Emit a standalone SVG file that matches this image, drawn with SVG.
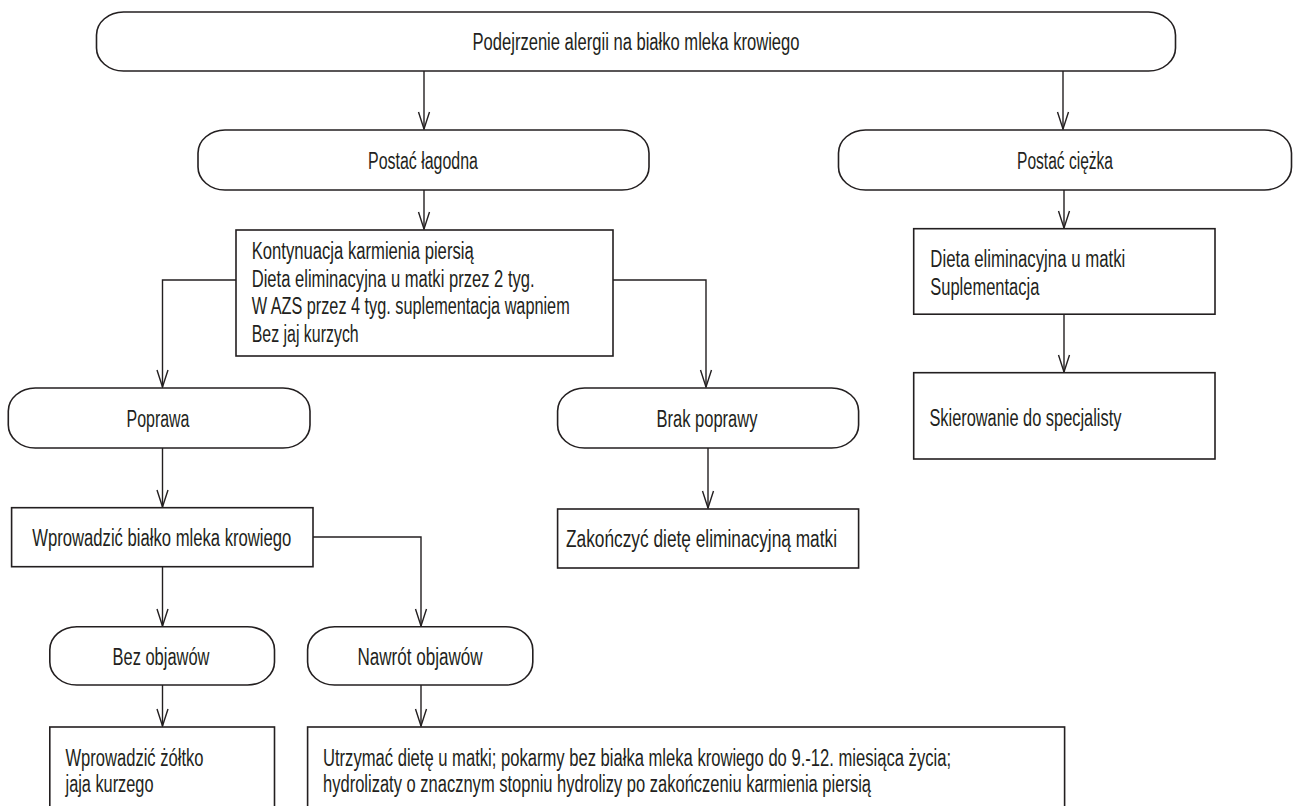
<svg xmlns="http://www.w3.org/2000/svg" width="1299" height="806" viewBox="0 0 1299 806">
<style>
rect{fill:#fff;stroke:#231f20;stroke-width:1.6}
text{font-family:"Liberation Sans",Arial,sans-serif;font-size:23px;fill:#231f20}
.c{text-anchor:middle}
#connectors path{fill:none;stroke:#231f20;stroke-width:1.4}
</style>
<defs>
<marker id="arr" markerUnits="userSpaceOnUse" markerWidth="40" markerHeight="40" refX="0" refY="0" orient="auto" overflow="visible">
<path d="M-17,-5.5 L0,0 L-17,5.5" fill="none" stroke="#231f20" stroke-width="1.4"/>
</marker>
</defs>
<rect x="0" y="0" width="1299" height="806" style="fill:#fff;stroke:none"/>
<g id="connectors">
<path d="M424,71 V129" marker-end="url(#arr)"/>
<path d="M1063,71 V129" marker-end="url(#arr)"/>
<path d="M424,190 V229" marker-end="url(#arr)"/>
<path d="M1064,190 V228" marker-end="url(#arr)"/>
<path d="M1064,314 V372" marker-end="url(#arr)"/>
<path d="M236,280 H162.5 V387" marker-end="url(#arr)"/>
<path d="M613,280 H706 V387" marker-end="url(#arr)"/>
<path d="M162.5,448 V507" marker-end="url(#arr)"/>
<path d="M708,448 V508" marker-end="url(#arr)"/>
<path d="M162.5,567 V626" marker-end="url(#arr)"/>
<path d="M313,537 H421 V626" marker-end="url(#arr)"/>
<path d="M162.5,685 V726" marker-end="url(#arr)"/>
<path d="M421,685 V726" marker-end="url(#arr)"/>
</g>
<g id="n-start">
<rect x="96.5" y="12" width="1079" height="59" rx="27" ry="23"/>
<text class="c" x="636" y="50" textLength="327" lengthAdjust="spacingAndGlyphs">Podejrzenie alergii na białko mleka krowiego</text>
</g>
<g id="n-lagodna">
<rect x="198" y="130" width="451" height="60" rx="27" ry="23"/>
<text class="c" x="423" y="169" textLength="110" lengthAdjust="spacingAndGlyphs">Postać łagodna</text>
</g>
<g id="n-ciezka">
<rect x="838.5" y="130" width="453" height="60" rx="27" ry="23"/>
<text class="c" x="1065" y="169" textLength="96" lengthAdjust="spacingAndGlyphs">Postać ciężka</text>
</g>
<g id="n-kontynuacja">
<rect x="236" y="230" width="377" height="126"/>
<text x="251.7" y="259" textLength="222" lengthAdjust="spacingAndGlyphs">Kontynuacja karmienia piersią</text>
<text x="251.7" y="287" textLength="283" lengthAdjust="spacingAndGlyphs">Dieta eliminacyjna u matki przez 2 tyg.</text>
<text x="251.7" y="314" textLength="318" lengthAdjust="spacingAndGlyphs">W AZS przez 4 tyg. suplementacja wapniem</text>
<text x="251.7" y="342" textLength="107" lengthAdjust="spacingAndGlyphs">Bez jaj kurzych</text>
</g>
<g id="n-dieta">
<rect x="913.7" y="228.7" width="301.3" height="85.5"/>
<text x="930.3" y="267" textLength="195" lengthAdjust="spacingAndGlyphs">Dieta eliminacyjna u matki</text>
<text x="930.3" y="295" textLength="109" lengthAdjust="spacingAndGlyphs">Suplementacja</text>
</g>
<g id="n-skierowanie">
<rect x="913.7" y="372.7" width="301.3" height="86.3"/>
<text x="929.4" y="426" textLength="192" lengthAdjust="spacingAndGlyphs">Skierowanie do specjalisty</text>
</g>
<g id="n-poprawa">
<rect x="8.3" y="388" width="301.7" height="60" rx="27" ry="23"/>
<text class="c" x="158" y="427" textLength="63" lengthAdjust="spacingAndGlyphs">Poprawa</text>
</g>
<g id="n-brak">
<rect x="557.6" y="388" width="301" height="60" rx="27" ry="23"/>
<text class="c" x="707" y="427" textLength="101" lengthAdjust="spacingAndGlyphs">Brak poprawy</text>
</g>
<g id="n-wprowadzic">
<rect x="11.6" y="507.7" width="301.4" height="59"/>
<text x="32.3" y="546" textLength="259" lengthAdjust="spacingAndGlyphs">Wprowadzić białko mleka krowiego</text>
</g>
<g id="n-zakonczyc">
<rect x="557.6" y="509" width="301" height="59"/>
<text x="566" y="547" textLength="271" lengthAdjust="spacingAndGlyphs">Zakończyć dietę eliminacyjną matki</text>
</g>
<g id="n-bez">
<rect x="49.8" y="626.7" width="224.7" height="58.3" rx="27" ry="23"/>
<text class="c" x="161" y="665" textLength="97" lengthAdjust="spacingAndGlyphs">Bez objawów</text>
</g>
<g id="n-nawrot">
<rect x="307.6" y="626.7" width="225.2" height="58.3" rx="27" ry="23"/>
<text class="c" x="420" y="665" textLength="125" lengthAdjust="spacingAndGlyphs">Nawrót objawów</text>
</g>
<g id="n-zoltko">
<rect x="49.8" y="727" width="224.7" height="100"/>
<text x="65.5" y="766" textLength="138" lengthAdjust="spacingAndGlyphs">Wprowadzić żółtko</text>
<text x="65.5" y="792" textLength="88" lengthAdjust="spacingAndGlyphs">jaja kurzego</text>
</g>
<g id="n-utrzymac">
<rect x="307.6" y="727" width="757" height="100"/>
<text x="323" y="766" textLength="628" lengthAdjust="spacingAndGlyphs">Utrzymać dietę u matki; pokarmy bez białka mleka krowiego do 9.-12. miesiąca życia;</text>
<text x="323" y="792" textLength="548" lengthAdjust="spacingAndGlyphs">hydrolizaty o znacznym stopniu hydrolizy po zakończeniu karmienia piersią</text>
</g>
</svg>
